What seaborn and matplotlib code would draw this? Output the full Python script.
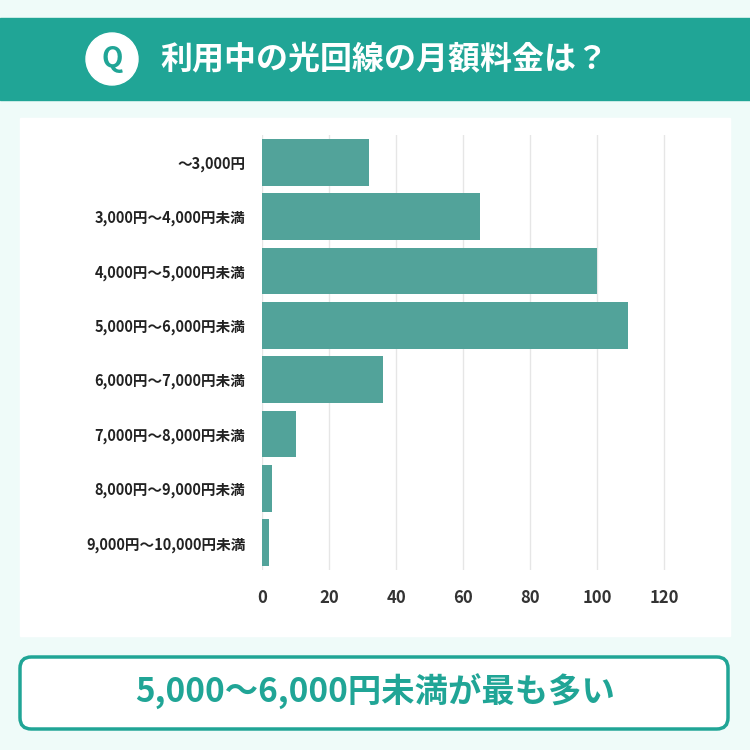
import matplotlib
matplotlib.use("Agg")
import matplotlib.pyplot as plt
import seaborn as sns
import pandas as pd
from matplotlib.patches import FancyBboxPatch, Rectangle, Circle

plt.rcParams["font.family"] = "Noto Sans CJK JP"

categories = ["～3,000円", "3,000円～4,000円未満", "4,000円～5,000円未満", "5,000円～6,000円未満",
              "6,000円～7,000円未満", "7,000円～8,000円未満", "8,000円～9,000円未満", "9,000円～10,000円未満"]
values = [32, 65, 100, 109, 36, 10, 3, 2]
xticks = [0, 20, 40, 60, 80, 100, 120]

title = "利用中の光回線の月額料金は？"
summary = "5,000～6,000円未満が最も多い"

teal = "#20a596"
bar_color = "#52a39a"

fig = plt.figure(figsize=(7.5, 7.5), dpi=100)
fig.patch.set_facecolor("#effbf9")

# header band
fig.patches.append(Rectangle((0, 1 - 100 / 750), 1, 82 / 750, transform=fig.transFigure, color=teal, zorder=0))
fig.patches.append(Circle((112 / 750, 1 - 59 / 750), 26 / 750, transform=fig.transFigure, color="white", zorder=0))
fig.text(112 / 750, 1 - 59 / 750, "Q", color=teal, fontsize=20, fontweight="bold", ha="center", va="center")
fig.text(160 / 750, 1 - 59 / 750, title, color="white", fontsize=23, fontweight="bold", ha="left", va="center")

# white panel
fig.patches.append(Rectangle((20 / 750, 1 - 636 / 750), 710 / 750, 518 / 750, transform=fig.transFigure,
                             color="white", zorder=0))

# summary box
fig.patches.append(FancyBboxPatch((20 / 750, 1 - 729 / 750), 708 / 750, 72 / 750, boxstyle="round,pad=0,rounding_size=0.015",
                                  transform=fig.transFigure, facecolor="white", edgecolor=teal, linewidth=2.5, zorder=0))
fig.text(375 / 750, 1 - 692 / 750, summary, color=teal, fontsize=24, fontweight="bold", ha="center", va="center")

ax = fig.add_axes([262 / 750, 1 - 570 / 750, 436 / 750, 435 / 750])
ax.set_zorder(5)
df = pd.DataFrame({"cat": categories, "val": values})
sns.barplot(data=df, x="val", y="cat", color=bar_color, width=0.86, saturation=1, ax=ax, zorder=2)
ax.set_xlim(0, 130)
ax.set_xticks(xticks)
ax.set_xlabel("")
ax.set_ylabel("")
ax.set_facecolor("white")
ax.grid(axis="x", color="#e6e6e6", linewidth=1, zorder=0)
ax.set_axisbelow(True)
for s in ax.spines.values():
    s.set_visible(False)
ax.tick_params(length=0)
ax.tick_params(axis="x", labelsize=12, colors="#333333", pad=14)
ax.tick_params(axis="y", labelsize=10.5, colors="#222222", pad=12)
for t in ax.get_xticklabels() + ax.get_yticklabels():
    t.set_fontweight("bold")

fig.savefig("out.png", dpi=100, facecolor=fig.get_facecolor())
